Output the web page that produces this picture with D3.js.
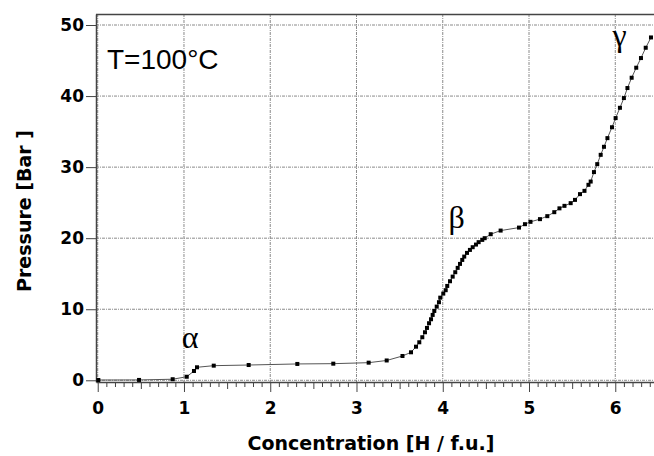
<!DOCTYPE html>
<html>
<head>
<meta charset="utf-8">
<script src="https://cdn.jsdelivr.net/npm/d3@7"></script>
<style>
  body { margin: 0; background: #fff; }
  svg { display: block; }
</style>
</head>
<body>
<script>
// isotherm data
var concentration = [0.007, 0.479, 0.869, 1.032, 1.116, 1.151, 1.345, 1.750, 2.314, 2.731,
    3.141, 3.350, 3.533, 3.632, 3.690, 3.728, 3.763, 3.794, 3.817, 3.841,
    3.864, 3.883, 3.902, 3.930, 3.956, 3.971, 4.006, 4.034, 4.052, 4.084,
    4.115, 4.145, 4.173, 4.200, 4.226, 4.249, 4.281, 4.315, 4.347, 4.385,
    4.416, 4.458, 4.486, 4.556, 4.671, 4.884, 4.953, 5.017, 5.127, 5.212,
    5.293, 5.353, 5.411, 5.483, 5.533, 5.591, 5.643, 5.689, 5.715, 5.753,
    5.791, 5.831, 5.869, 5.909, 5.962, 6.004, 6.054, 6.100, 6.141, 6.190,
    6.243, 6.298, 6.353, 6.414];
var pressure = [0.04, 0.05, 0.15, 0.50, 1.31, 1.83, 2.06, 2.15, 2.30, 2.34,
    2.48, 2.79, 3.42, 3.94, 4.73, 5.35, 6.06, 6.76, 7.37, 8.03,
    8.59, 9.20, 9.76, 10.37, 10.99, 11.63, 12.20, 12.68, 13.28, 13.94,
    14.59, 15.21, 15.82, 16.38, 16.94, 17.41, 17.93, 18.35, 18.73, 19.10,
    19.44, 19.76, 20.00, 20.56, 21.07, 21.49, 21.97, 22.30, 22.68, 23.10,
    23.66, 24.20, 24.55, 24.93, 25.39, 26.20, 26.66, 27.51, 27.97, 29.30,
    30.42, 31.73, 32.86, 34.08, 35.61, 36.90, 38.35, 39.72, 41.13, 42.58,
    43.99, 45.35, 46.80, 48.25];

var xTicks = [0, 1, 2, 3, 4, 5, 6];
var yTicks = [0, 10, 20, 30, 40, 50];

var phaseLabels = ["α", "β", "γ"];
var phaseX = [1.07, 4.16, 6.05];
var phaseY = [4.6, 21.5, 47.0];

var margin = { top: 14, right: 0, bottom: 74, left: 96 },
    vizWidth = 654,
    vizHeight = 456,
    plotWidth = vizWidth - margin.left - margin.right,
    plotHeight = vizHeight - margin.top - margin.bottom;

var x = d3.scaleLinear().domain([-0.02, 6.449]).range([0, plotWidth]);
var y = d3.scaleLinear().domain([-0.24, 51.55]).range([plotHeight, 0]);

var viz = d3.select("body").append("svg")
    .attr("width", vizWidth)
    .attr("height", vizHeight);

var plot = viz.append("g")
    .attr("transform", "translate(" + margin.left + "," + margin.top + ")");

// grid
var gridColor = "#8a8a8a";
plot.selectAll(".vgrid")
    .data(xTicks)
    .enter().append("line")
    .attr("x1", d => x(d)).attr("x2", d => x(d))
    .attr("y1", 0).attr("y2", plotHeight)
    .style("stroke", gridColor)
    .style("stroke-width", 1)
    .style("stroke-dasharray", "3,1,1,1");

plot.selectAll(".hgrid")
    .data(yTicks)
    .enter().append("line")
    .attr("x1", 0).attr("x2", plotWidth)
    .attr("y1", d => y(d)).attr("y2", d => y(d))
    .style("stroke", gridColor)
    .style("stroke-width", 1)
    .style("stroke-dasharray", "3,1,1,1");

// top frame
plot.append("line")
    .attr("x1", 0).attr("x2", plotWidth)
    .attr("y1", 0.5).attr("y2", 0.5)
    .style("stroke", "#444")
    .style("stroke-width", 1.5);

// x axis: minor, half and integer ticks
var minorVals = d3.range(0, 65).map(i => i / 10).filter(v => Math.abs(v * 2 - Math.round(v * 2)) > 1e-6);
var halfVals = [0.5, 1.5, 2.5, 3.5, 4.5, 5.5];

plot.append("g")
    .attr("transform", "translate(0," + plotHeight + ")")
    .call(d3.axisBottom(x).tickValues(minorVals).tickSize(5).tickSizeOuter(0).tickFormat(""))
    .call(g => g.select(".domain").remove());

plot.append("g")
    .attr("transform", "translate(0," + plotHeight + ")")
    .call(d3.axisBottom(x).tickValues(halfVals).tickSize(7).tickSizeOuter(0).tickFormat(""))
    .call(g => g.select(".domain").remove());

var xAxis = plot.append("g")
    .attr("class", "xaxis")
    .attr("transform", "translate(0," + plotHeight + ")")
    .call(d3.axisBottom(x).tickValues(xTicks).tickSize(10).tickSizeOuter(0).tickPadding(10).tickFormat(d3.format("d")));

var yAxis = plot.append("g")
    .attr("class", "yaxis")
    .call(d3.axisLeft(y).tickValues(yTicks).tickSize(10).tickSizeOuter(0).tickPadding(2));

plot.selectAll(".tick line").style("stroke", "#444");
plot.selectAll(".xaxis .domain, .yaxis .domain")
    .style("stroke", "#444")
    .style("stroke-width", 1.5);
plot.selectAll(".xaxis text, .yaxis text")
    .style("font-family", "DejaVu Sans")
    .style("font-weight", "bold")
    .style("font-size", "17px")
    .style("fill", "#000");

// data line + markers
var line = d3.line()
    .x(i => x(concentration[i]))
    .y(i => y(pressure[i]));

var idx = d3.range(concentration.length);

plot.append("path")
    .datum(idx)
    .attr("d", line)
    .style("fill", "none")
    .style("stroke", "#555")
    .style("stroke-width", 1);

plot.selectAll(".pt")
    .data(idx)
    .enter().append("rect")
    .attr("x", i => x(concentration[i]) - 2)
    .attr("y", i => y(pressure[i]) - 2)
    .attr("width", 4)
    .attr("height", 4)
    .style("fill", "#000");

// phase labels
plot.selectAll(".phase")
    .data(phaseLabels)
    .enter().append("text")
    .attr("x", (d, i) => x(phaseX[i]))
    .attr("y", (d, i) => y(phaseY[i]))
    .attr("text-anchor", "middle")
    .style("font-family", "Liberation Serif")
    .style("font-size", "32px")
    .text(d => d);

// temperature note
plot.append("text")
    .attr("x", 11)
    .attr("y", 55)
    .style("font-family", "Liberation Sans")
    .style("font-size", "28px")
    .text("T=100°C");

// axis titles
viz.append("text")
    .attr("x", 371)
    .attr("y", 450)
    .attr("text-anchor", "middle")
    .style("font-family", "DejaVu Sans")
    .style("font-weight", "bold")
    .style("font-size", "19px")
    .text("Concentration [H / f.u.]");

viz.append("text")
    .attr("transform", "translate(31,211) rotate(-90)")
    .attr("text-anchor", "middle")
    .style("font-family", "DejaVu Sans")
    .style("font-weight", "bold")
    .style("font-size", "19px")
    .text("Pressure [Bar ]");
</script>
</body>
</html>
